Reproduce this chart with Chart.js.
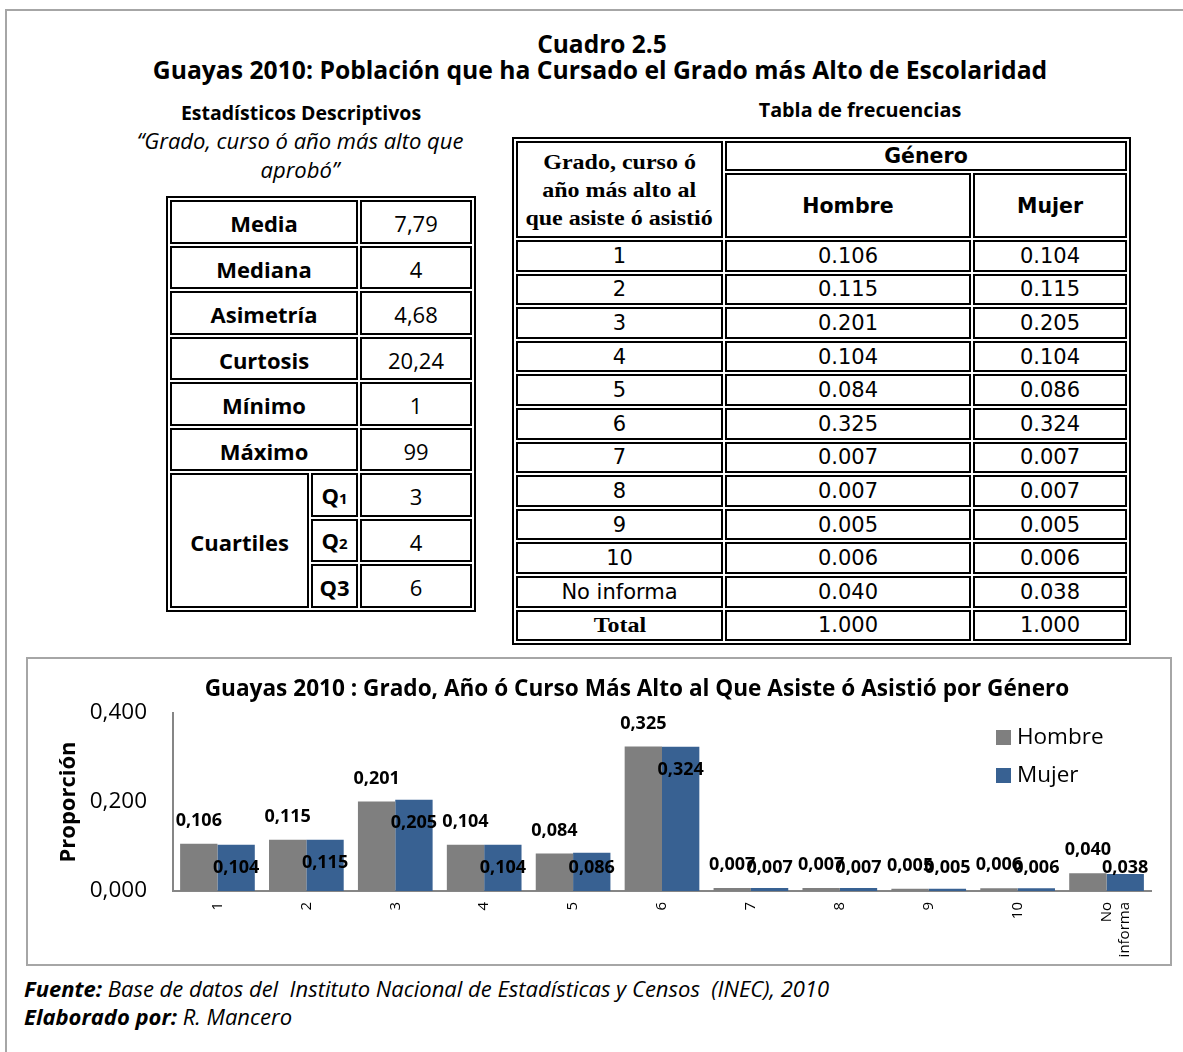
<!DOCTYPE html>
<html lang="es">
<head>
<meta charset="utf-8">
<title>Cuadro 2.5</title>
<script src="https://cdn.jsdelivr.net/npm/chart.js@4.4.1/dist/chart.umd.min.js"></script>
<style>
  body { margin:0; width:1183px; height:1052px; position:relative; background:#fff; color:#000; overflow:hidden; font-family: "Open Sans", sans-serif; }
  .frame { position:absolute; left:5px; top:9px; width:1200px; height:1100px; border-left:2px solid #a6a6a6; border-top:2px solid #a6a6a6; }
  .txt { position:absolute; text-align:center; white-space:nowrap; }
  table.t { position:absolute; border-collapse:separate; border-spacing:2px; border:2px solid #000; table-layout:fixed; box-sizing:border-box; }
  table.t td { border:2px solid #000; padding:0; text-align:center; vertical-align:middle; }
  #stats td { font-size:22px; line-height:26px; padding-top:3px; height:36.5px; }
  #stats td.lab { font-weight:bold; }
  #stats .sm { font-size:15px; }
  #freq td { font-family:"DejaVu Sans", sans-serif; font-size:21px; height:27.6px; line-height:22px; }
  #freq td.serif { font-family:"Liberation Serif", "Times New Roman", serif; font-weight:bold; font-size:20px; }
  #freq td.serif span { display:inline-block; transform:scaleX(1.2); }
  #freq td.h1 { height:26px; font-weight:bold; font-size:20.5px; }
  #freq td.h2 { height:61px; font-weight:bold; font-size:20.5px; }
  #freq td.corner { line-height:28px; }
  #chartBox { position:absolute; left:26px; top:657px; width:1146px; height:309px; border:2px solid #a6a6a6; box-sizing:border-box; }
  #chartBox canvas { display:block; }
  .foot { position:absolute; left:24px; font-size:22px; font-style:italic; white-space:pre; line-height:26px; }
</style>
</head>
<body>
<div class="frame"></div>

<div class="txt" style="left:0;width:1204px;top:30px;font-size:24.5px;font-weight:bold;line-height:28px;">Cuadro 2.5</div>
<div class="txt" style="left:0;width:1200px;top:56px;font-size:24.7px;font-weight:bold;line-height:28px;">Guayas 2010: Población que ha Cursado el Grado más Alto de Escolaridad</div>

<div class="txt" style="left:100px;width:402px;top:100px;font-size:19.5px;font-weight:bold;line-height:26px;">Estadísticos Descriptivos</div>
<div class="txt" style="left:100px;width:400px;top:126px;font-size:22px;font-style:italic;line-height:29px;">“Grado, curso ó año más alto que<br>aprobó”</div>

<div class="txt" style="left:700px;width:320px;top:98px;height:19px;overflow:hidden;font-size:19.8px;font-weight:bold;line-height:24px;">Tabla de frecuencias</div>

<table class="t" id="stats" style="left:166px;top:196px;width:310px;">
  <colgroup><col style="width:139px"><col style="width:47px"><col style="width:112px"></colgroup>
  <tbody></tbody>
</table>

<table class="t" id="freq" style="left:512px;top:137px;width:619px;">
  <colgroup><col style="width:207px"><col style="width:246px"><col style="width:154px"></colgroup>
  <tbody></tbody>
</table>

<div id="chartBox"><canvas id="grafico" width="1142" height="305"></canvas></div>

<div class="foot" style="top:975px;"><b>Fuente:</b> Base de datos del  Instituto Nacional de Estadísticas y Censos  (INEC), 2010</div>
<div class="foot" style="top:1003px;"><b>Elaborado por:</b> R. Mancero</div>

<script>
// estadísticos descriptivos
var statLabels = ['Media', 'Mediana', 'Asimetría', 'Curtosis', 'Mínimo', 'Máximo'];
var statValues = ['7,79', '4', '4,68', '20,24', '1', '99'];
var quartileNames = ['1', '2', '3'];
var quartileValues = ['3', '4', '6'];

// tabla de frecuencias / gráfico
var grados = ['1', '2', '3', '4', '5', '6', '7', '8', '9', '10', 'No informa'];
var hombre = [0.106, 0.115, 0.201, 0.104, 0.084, 0.325, 0.007, 0.007, 0.005, 0.006, 0.040];
var mujer  = [0.104, 0.115, 0.205, 0.104, 0.086, 0.324, 0.007, 0.007, 0.005, 0.006, 0.038];
var totales = ['1.000', '1.000'];
var yTicks = [0, 0.2, 0.4];

var tituloGrafico = 'Guayas 2010 : Grado, Año ó Curso Más Alto al Que Asiste ó Asistió por Género';

function coma(v) {
  return v.toFixed(3).replace('.', ',');
}

// tabla izquierda
var sb = document.querySelector('#stats tbody');
var html = '';
statLabels.forEach(function (l, i) {
  html += '<tr><td class="lab" colspan="2">' + l + '</td><td>' + statValues[i] + '</td></tr>';
});
quartileNames.forEach(function (q, i) {
  html += '<tr>';
  if (i === 0) html += '<td class="lab" rowspan="3">Cuartiles</td>';
  var sub = i < 2 ? '<span class="sm">' + q + '</span>' : q;
  html += '<td class="lab">Q' + sub + '</td><td>' + quartileValues[i] + '</td></tr>';
});
sb.innerHTML = html;

// tabla derecha
var fb = document.querySelector('#freq tbody');
html = '<tr><td class="serif corner" rowspan="2"><span>Grado, curso ó</span><br><span>año más alto al</span><br><span>que asiste ó asistió</span></td>' +
       '<td class="h1" colspan="2">Género</td></tr>' +
       '<tr><td class="h2">Hombre</td><td class="h2">Mujer</td></tr>';
grados.forEach(function (g, i) {
  html += '<tr><td>' + g + '</td><td>' + hombre[i].toFixed(3) + '</td><td>' + mujer[i].toFixed(3) + '</td></tr>';
});
html += '<tr><td class="serif"><span>Total</span></td><td>' + totales[0] + '</td><td>' + totales[1] + '</td></tr>';
fb.innerHTML = html;

// etiquetas de datos
const etiquetas = {
  id: 'etiquetas',
  afterDatasetsDraw(chart) {
    const ctx = chart.ctx;
    ctx.save();
    ctx.font = 'bold 18px "Open Sans"';
    ctx.fillStyle = '#000';
    ctx.textAlign = 'center';
    ctx.textBaseline = 'middle';
    chart.data.datasets.forEach(function (ds, i) {
      chart.getDatasetMeta(i).data.forEach(function (bar, j) {
        var y = i === 0 ? bar.y - 23 : Math.min(bar.y + 23, bar.base - 23);
        ctx.fillText(coma(ds.data[j]), bar.x, y);
      });
    });
    ctx.restore();
  }
};

// título y leyenda dentro del gráfico
const encabezado = {
  id: 'encabezado',
  afterDraw(chart) {
    const ctx = chart.ctx;
    ctx.save();
    ctx.fillStyle = '#000';
    ctx.font = 'bold 22.6px "Open Sans"';
    ctx.textAlign = 'center';
    ctx.textBaseline = 'middle';
    ctx.fillText(tituloGrafico, 609, 31);

    ctx.font = '22.5px "Open Sans"';
    ctx.textAlign = 'left';
    chart.data.datasets.forEach(function (ds, i) {
      var y = 79 + i * 38;
      ctx.fillStyle = ds.backgroundColor;
      ctx.fillRect(968, y - 8, 15, 15);
      ctx.fillStyle = '#000';
      ctx.fillText(ds.label, 989, y);
    });
    ctx.restore();
  }
};

const ctx = document.getElementById('grafico').getContext('2d');
new Chart(ctx, {
  type: 'bar',
  data: {
    labels: grados.map(function (g) { return g.indexOf(' ') > 0 ? g.split(' ') : g; }),
    datasets: [{
      label: 'Hombre',
      data: hombre,
      backgroundColor: '#7f7f7f',
      categoryPercentage: 0.84,
      barPercentage: 1
    }, {
      label: 'Mujer',
      data: mujer,
      backgroundColor: '#386192',
      categoryPercentage: 0.84,
      barPercentage: 1
    }]
  },
  options: {
    responsive: false,
    animation: false,
    layout: { padding: { top: 54, right: 19, left: 0, bottom: 0 } },
    scales: {
      x: {
        grid: { display: false, drawTicks: false },
        border: { color: '#868686', width: 2 },
        ticks: { minRotation: 90, maxRotation: 90, padding: 11, color: '#000', font: { family: 'Open Sans', size: 15 } },
        afterFit: function (s) { s.height = 73; s.paddingLeft = 0; s.paddingRight = 0; }
      },
      y: {
        min: 0,
        max: 0.4,
        grid: { display: false, drawTicks: false },
        border: { color: '#868686', width: 2 },
        afterBuildTicks: function (s) { s.ticks = yTicks.map(function (v) { return { value: v }; }); },
        ticks: { padding: 26, color: '#000', font: { family: 'Open Sans', size: 22.5 }, callback: function (v) { return coma(v); } },
        title: { display: true, text: 'Proporción', color: '#000', font: { family: 'Open Sans', size: 22, weight: 'bold' }, padding: { top: 28, bottom: 0 } },
        afterFit: function (s) { s.width = 145; s.paddingTop = 0; s.paddingBottom = 0; }
      }
    },
    plugins: {
      legend: { display: false },
      title: { display: false },
      tooltip: { enabled: false }
    }
  },
  plugins: [etiquetas, encabezado]
});
</script>
</body>
</html>
